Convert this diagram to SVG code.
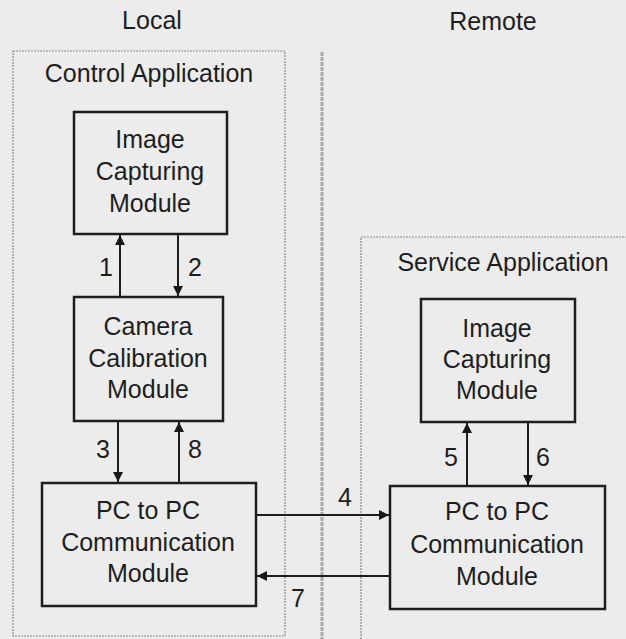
<svg xmlns="http://www.w3.org/2000/svg" width="626" height="639" viewBox="0 0 626 639">
<defs>
<marker id="ah" viewBox="0 0 10 10" refX="10" refY="5" markerWidth="11" markerHeight="10" markerUnits="userSpaceOnUse" orient="auto">
<path d="M0,0 L10,5 L0,10 z" fill="#1a1a1a"/>
</marker>
<style>
text{font-family:"Liberation Sans",Arial,sans-serif;font-size:25px;fill:#1e1e1e;text-anchor:middle}
.box{fill:none;stroke:#1e1e1e;stroke-width:2.5}
.cont{fill:none;stroke:#8a8a8a;stroke-width:1.2;stroke-dasharray:2 1}
.conn line{stroke:#1e1e1e;stroke-width:2;marker-end:url(#ah)}
</style>
</defs>
<rect width="626" height="639" fill="#ececec"/>
<text x="152" y="29">Local</text>
<text x="493" y="30">Remote</text>
<line x1="322" y1="52" x2="322" y2="639" stroke="#a8a8a8" stroke-width="3" stroke-dasharray="4 1"/>
<g id="control-app">
<rect class="cont" x="13" y="51" width="272" height="585"/>
<text x="149" y="82">Control Application</text>
</g>
<g id="service-app">
<path class="cont" d="M361,639 V237 H626"/>
<text x="503" y="271">Service Application</text>
</g>
<g id="local-image">
<rect class="box" x="74" y="112" width="153" height="122"/>
<text x="150" y="148">Image</text>
<text x="150" y="180">Capturing</text>
<text x="150" y="212">Module</text>
</g>
<g id="local-calib">
<rect class="box" x="74" y="297" width="149" height="124"/>
<text x="148" y="335">Camera</text>
<text x="148" y="367">Calibration</text>
<text x="148" y="398">Module</text>
</g>
<g id="local-pc">
<rect class="box" x="42" y="483" width="214" height="123"/>
<text x="148" y="519">PC to PC</text>
<text x="148" y="551">Communication</text>
<text x="148" y="582">Module</text>
</g>
<g id="remote-image">
<rect class="box" x="421" y="299" width="154" height="123"/>
<text x="497" y="337">Image</text>
<text x="497" y="368">Capturing</text>
<text x="497" y="399">Module</text>
</g>
<g id="remote-pc">
<rect class="box" x="390" y="486" width="215" height="123"/>
<text x="497" y="520">PC to PC</text>
<text x="497" y="553">Communication</text>
<text x="497" y="585">Module</text>
</g>
<g class="conn" id="connectors">
<line x1="120" y1="297" x2="120" y2="235"/>
<line x1="178" y1="234" x2="178" y2="296"/>
<line x1="118" y1="421" x2="118" y2="482"/>
<line x1="179" y1="483" x2="179" y2="422"/>
<line x1="256" y1="515" x2="389" y2="515"/>
<line x1="390" y1="576" x2="257" y2="576"/>
<line x1="467" y1="486" x2="467" y2="423"/>
<line x1="528" y1="422" x2="528" y2="485"/>
</g>
<g id="labels">
<text x="106" y="276">1</text>
<text x="195" y="276">2</text>
<text x="103" y="458">3</text>
<text x="195" y="458">8</text>
<text x="345" y="506">4</text>
<text x="298" y="607">7</text>
<text x="451" y="466">5</text>
<text x="543" y="466">6</text>
</g>
</svg>
